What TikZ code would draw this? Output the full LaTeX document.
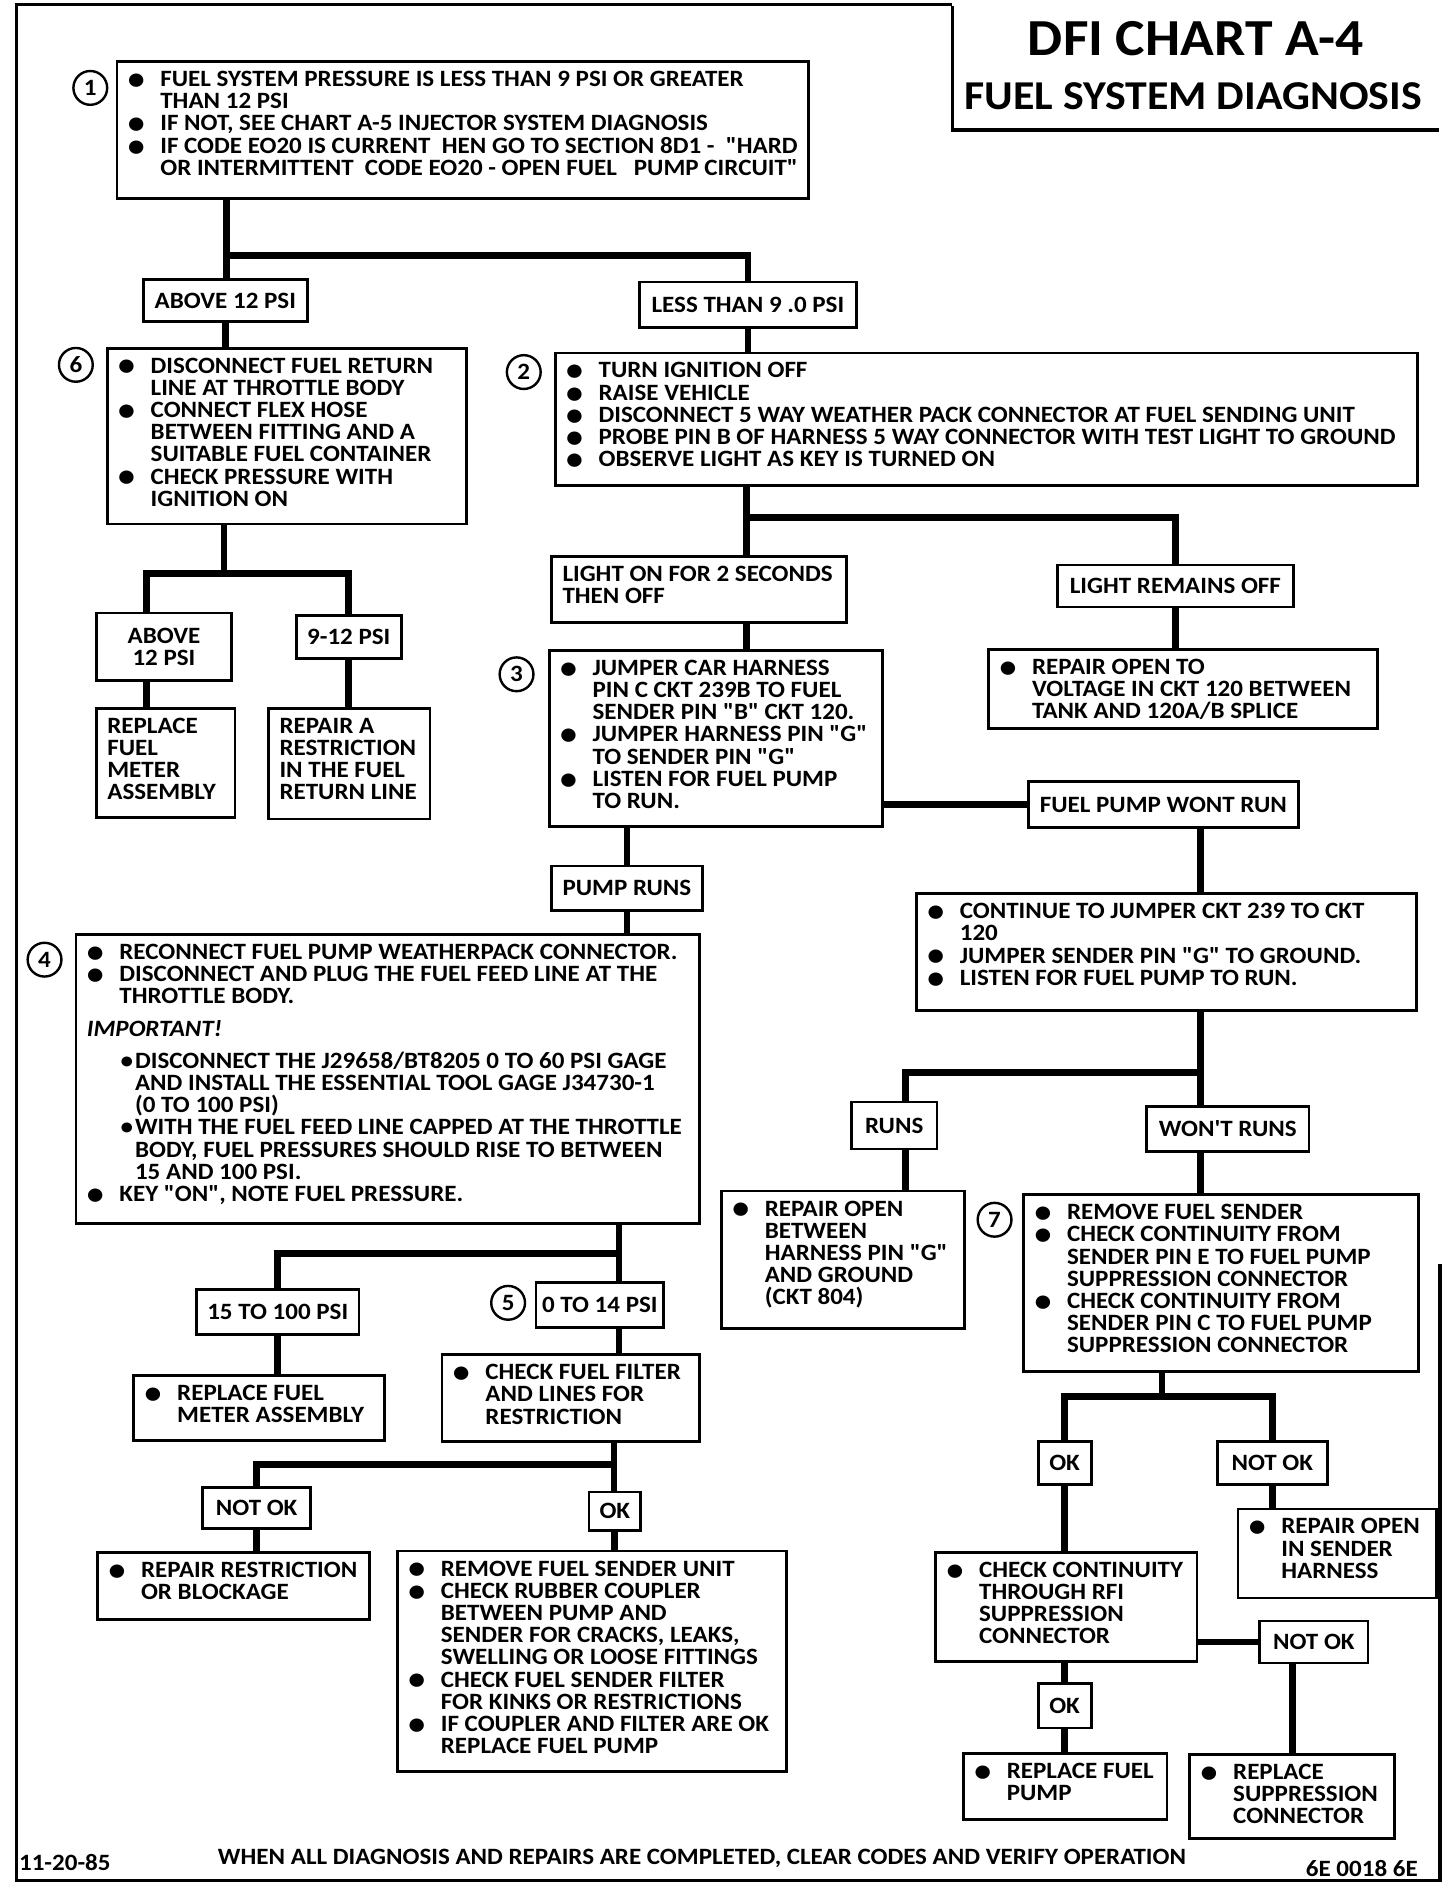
\documentclass[tikz,border=0pt]{standalone}
\usepackage{fontspec}
\setmainfont{Carlito}[Ligatures=TeXOff,FakeStretch=1.07]
\newlength\px \setlength\px{0.60215pt}
\newcommand\bodyfont{\fontsize{11.7}{11.1}\selectfont\bfseries}
% boxed text, top left; width, height in px
\newcommand\tb[3]{\parbox[c][#2\px][t]{#1\px}{\leftskip=9\px\rightskip=0pt plus 1fil minus 40pt\vspace*{8\px}#3}}
% label, centred
\newcommand\lb[3]{\parbox[c][#2\px][c]{#1\px}{\centering #3}}
\newcommand\bigdot{\raisebox{-0.25ex}{\scalebox{1.35}{\textbullet}}}
\newcommand\bul{\par\hangindent=27\px\hangafter=1\noindent\makebox[27\px][l]{\bigdot}}
\newcommand\subbul{\par\hangindent=40\px\hangafter=1\noindent\hspace*{28\px}\makebox[12\px][l]{\textbullet}}

\begin{document}
\begin{tikzpicture}[x=0.60215pt,y=-0.60215pt,
  box/.style={draw,line width=1.4pt,inner sep=0pt,anchor=north west,font=\bodyfont},
  conn/.style={line width=3.4pt},
  frm/.style={line width=1.6pt},
  num/.style={draw,circle,line width=1.2pt,minimum size=16.9pt,inner sep=0pt,font=\bodyfont}]
  \useasboundingbox (0,0) rectangle (1209,1568);

  % frame and title
  \draw[frm] (791,4) -- (14,4) -- (14,1562) -- (1196,1562) -- (1196,1050);
  \draw[frm] (791,5) -- (791,108) -- (1195,108);
  \node[font=\fontsize{26}{28}\selectfont\bfseries] (t1) at (993,32) {DFI CHART A-4};
  \node[font=\fontsize{20.5}{22}\selectfont\bfseries] (t2) at (991,80) {FUEL SYSTEM DIAGNOSIS};

  % left column
  \node[box] (b1) at (96,50) {\tb{574}{114}{%
    \bul FUEL SYSTEM PRESSURE IS LESS THAN 9 PSI OR GREATER\\THAN 12 PSI
    \bul IF NOT, SEE CHART A-5 INJECTOR SYSTEM DIAGNOSIS
    \bul IF CODE EO20 IS CURRENT \ HEN GO TO SECTION 8D1 - \ "HARD\\OR INTERMITTENT \ CODE EO20 - OPEN FUEL \ \ PUMP CIRCUIT"}};
  \node[box] (a1) at (118,231) {\lb{136}{35}{ABOVE 12 PSI}};
  \node[box] (l1) at (530,233) {\lb{180}{38}{LESS THAN 9 .0 PSI}};
  \node[box] (b6) at (88,288) {\tb{298}{146}{%
    \bul DISCONNECT FUEL RETURN\\LINE AT THROTTLE BODY
    \bul CONNECT FLEX HOSE\\BETWEEN FITTING AND A\\SUITABLE FUEL CONTAINER
    \bul CHECK PRESSURE WITH\\IGNITION ON}};
  \node[box] (a2) at (79,508) {\lb{112}{56}{ABOVE\\12 PSI}};
  \node[box] (n912) at (245,510) {\lb{87}{36}{9-12 PSI}};
  \node[box] (r1) at (79,587) {\tb{115}{91}{\noindent REPLACE\\FUEL\\METER\\ASSEMBLY}};
  \node[box] (r2) at (222,587) {\tb{134}{92}{\noindent REPAIR A\\RESTRICTION\\IN THE FUEL\\RETURN LINE}};

  % upper right
  \node[box] (b2) at (460,292) {\tb{716}{110}{%
    \bul TURN IGNITION OFF
    \bul RAISE VEHICLE
    \bul DISCONNECT 5 WAY WEATHER PACK CONNECTOR AT FUEL SENDING UNIT
    \bul PROBE PIN B OF HARNESS 5 WAY CONNECTOR WITH TEST LIGHT TO GROUND
    \bul OBSERVE LIGHT AS KEY IS TURNED ON}};
  \node[box] (lon) at (457,461) {\tb{245}{55}{\noindent LIGHT ON FOR 2 SECONDS\\THEN OFF}};
  \node[box] (lro) at (877,468) {\lb{196}{35}{LIGHT REMAINS OFF}};
  \node[box] (rv) at (820,538) {\tb{323}{66}{%
    \bul REPAIR OPEN TO\\VOLTAGE IN CKT 120 BETWEEN\\TANK AND 120A/B SPLICE}};
  \node[box] (b3) at (455,539) {\tb{277}{146}{%
    \bul JUMPER CAR HARNESS\\PIN C CKT 239B TO FUEL\\SENDER PIN "B" CKT 120.
    \bul JUMPER HARNESS PIN "G"\\TO SENDER PIN "G"
    \bul LISTEN FOR FUEL PUMP\\TO RUN.}};
  \node[box] (fp) at (853,648) {\lb{224}{38}{FUEL PUMP WONT RUN}};
  \node[box] (pr) at (457,718) {\lb{125}{37}{PUMP RUNS}};
  \node[box] (ct) at (760,741) {\tb{415}{97}{%
    \bul CONTINUE TO JUMPER CKT 239 TO CKT\\120
    \bul JUMPER SENDER PIN "G" TO GROUND.
    \bul LISTEN FOR FUEL PUMP TO RUN.}};

  % box 4 and below
  \node[box] (b4) at (62,775) {\tb{518}{240}{%
    \bul RECONNECT FUEL PUMP WEATHERPACK CONNECTOR.
    \bul DISCONNECT AND PLUG THE FUEL FEED LINE AT THE\\THROTTLE BODY.\par
    \vspace{5pt}\noindent\textit{IMPORTANT!}\par\vspace{5pt}
    \subbul DISCONNECT THE J29658/BT8205 0 TO 60 PSI GAGE\\AND INSTALL THE ESSENTIAL TOOL GAGE J34730-1\\(0 TO 100 PSI)
    \subbul WITH THE FUEL FEED LINE CAPPED AT THE THROTTLE\\BODY, FUEL PRESSURES SHOULD RISE TO BETWEEN\\15 AND 100 PSI.
    \bul KEY "ON", NOTE FUEL PRESSURE.}};
  \node[box] (p15) at (162,1070) {\lb{135}{37}{15 TO 100 PSI}};
  \node[box] (p0) at (444,1064) {\lb{106}{37}{0 TO 14 PSI}};
  \node[box] (rm) at (110,1141) {\tb{208}{54}{%
    \bul REPLACE FUEL\\METER ASSEMBLY}};
  \node[box] (cf) at (366,1124) {\tb{214}{72}{%
    \bul CHECK FUEL FILTER\\AND LINES FOR\\RESTRICTION}};
  \node[box] (nok1) at (167,1234) {\lb{90}{34}{NOT OK}};
  \node[box] (ok1) at (488,1238) {\lb{43}{32}{OK}};
  \node[box] (rr) at (80,1288) {\tb{226}{56}{%
    \bul REPAIR RESTRICTION\\OR BLOCKAGE}};
  \node[box] (rs) at (329,1287) {\tb{323}{183}{%
    \bul REMOVE FUEL SENDER UNIT
    \bul CHECK RUBBER COUPLER\\BETWEEN PUMP AND\\SENDER FOR CRACKS, LEAKS,\\SWELLING OR LOOSE FITTINGS
    \bul CHECK FUEL SENDER FILTER\\FOR KINKS OR RESTRICTIONS
    \bul IF COUPLER AND FILTER ARE OK\\REPLACE FUEL PUMP}};

  % lower right
  \node[box] (runs) at (706,914) {\lb{71}{39}{RUNS}};
  \node[box] (wr) at (951,918) {\lb{135}{37}{WON'T RUNS}};
  \node[box] (rg) at (598,988) {\tb{202}{114}{%
    \bul REPAIR OPEN\\BETWEEN\\HARNESS PIN "G"\\AND GROUND\\(CKT 804)}};
  \node[box] (b7) at (849,991) {\tb{328}{147}{%
    \bul REMOVE FUEL SENDER
    \bul CHECK CONTINUITY FROM\\SENDER PIN E TO FUEL PUMP\\SUPPRESSION CONNECTOR
    \bul CHECK CONTINUITY FROM\\SENDER PIN C TO FUEL PUMP\\SUPPRESSION CONNECTOR}};
  \node[box] (ok2) at (861,1196) {\lb{44}{36}{OK}};
  \node[box] (nok2) at (1010,1196) {\lb{91}{36}{NOT OK}};
  \node[box] (rh) at (1027,1252) {\tb{165}{74}{%
    \bul REPAIR OPEN\\IN SENDER\\HARNESS}};
  \node[box] (cc) at (776,1288) {\tb{217}{91}{%
    \bul CHECK CONTINUITY\\THROUGH RFI\\SUPPRESSION\\CONNECTOR}};
  \node[box] (nok3) at (1045,1345) {\lb{90}{35}{NOT OK}};
  \node[box] (ok3) at (861,1397) {\lb{44}{37}{OK}};
  \node[box] (rp) at (799,1455) {\tb{169}{55}{%
    \bul REPLACE FUEL\\PUMP}};
  \node[box] (rsc) at (987,1456) {\tb{170}{70}{%
    \bul REPLACE\\SUPPRESSION\\CONNECTOR}};

  % step numbers
  \foreach \n/\cx/\cy in {1/75/73, 6/63/303, 2/435/309, 3/429/560, 4/37/797, 7/826/1013, 5/422/1082}
    \node[num] (c\n) at (\cx,\cy) {\n};

  % junctions
  \coordinate (j1) at (188,212);
  \coordinate (j2) at (186,476);  \coordinate (j2a) at (122,476);
  \coordinate (j3) at (620,430);
  \coordinate (j4) at (997,891);  \coordinate (j4a) at (752,891);
  \coordinate (j5) at (514,1041);
  \coordinate (j6) at (510,1216);
  \coordinate (j7) at (965,1160);

  % connectors
  \draw[conn] (b1.south -| j1) -- (a1.north -| j1);
  \draw[conn] (j1) -| (l1.north);
  \draw[conn] (a1.south) -- (a1.south |- b6.north);
  \draw[conn] (l1.south) -- (l1.south |- b2.north);
  \draw[conn] (b6.south -| j2) -- (j2);
  \draw[conn] (a2.north -| j2a) -- (j2a) -| (n912.north);
  \draw[conn] (a2.south -| j2a) -- (r1.north -| j2a);
  \draw[conn] (n912.south) -- (n912.south |- r2.north);
  \draw[conn] (b2.south -| j3) -- (lon.north -| j3);
  \draw[conn] (j3) -| (lro.north);
  \draw[conn] (lro.south) -- (lro.south |- rv.north);
  \draw[conn] (lon.south -| j3) -- (b3.north -| j3);
  \draw[conn] (b3.east |- fp.west) -- (fp.west);
  \draw[conn] (fp.south -| j4) -- (ct.north -| j4);
  \draw[conn] (b3.south -| pr.north) -- (pr.north);
  \draw[conn] (pr.south) -- (pr.south |- b4.north);
  \draw[conn] (ct.south -| j4) -- (wr.north -| j4);
  \draw[conn] (j4) -- (j4a) -- (runs.north -| j4a);
  \draw[conn] (runs.south -| j4a) -- (rg.north -| j4a);
  \draw[conn] (wr.south -| j4) -- (b7.north -| j4);
  \draw[conn] (b4.south -| j5) -- (p0.north -| j5);
  \draw[conn] (j5) -| (p15.north);
  \draw[conn] (p15.south) -- (p15.south |- rm.north);
  \draw[conn] (p0.south -| j5) -- (cf.north -| j5);
  \draw[conn] (cf.south -| j6) -- (ok1.north -| j6);
  \draw[conn] (j6) -| (nok1.north);
  \draw[conn] (nok1.south) -- (nok1.south |- rr.north);
  \draw[conn] (ok1.south) -- (ok1.south |- rs.north);
  \draw[conn] (b7.south -| j7) -- (j7);
  \draw[conn] (ok2.north) |- (j7) -| (nok2.north);
  \draw[conn] (nok2.south) -- (nok2.south |- rh.north);
  \draw[conn] (ok2.south) -- (ok2.south |- cc.north);
  \draw[conn] (cc.east |- nok3.west) -- (nok3.west);
  \draw[conn] (nok3.south -| rsc.north) -- (rsc.north);
  \draw[conn] (cc.south -| ok3.north) -- (ok3.north);
  \draw[conn] (ok3.south) -- (ok3.south |- rp.north);

  % footer
  \node[anchor=west,font=\bodyfont] (date) at (10,1547) {11-20-85};
  \node[font=\bodyfont] (note) at (583,1543) {WHEN ALL DIAGNOSIS AND REPAIRS ARE COMPLETED, CLEAR CODES AND VERIFY OPERATION};
  \node[font=\bodyfont] (code) at (1131,1552) {6E 0018 6E};
\end{tikzpicture}
\end{document}
